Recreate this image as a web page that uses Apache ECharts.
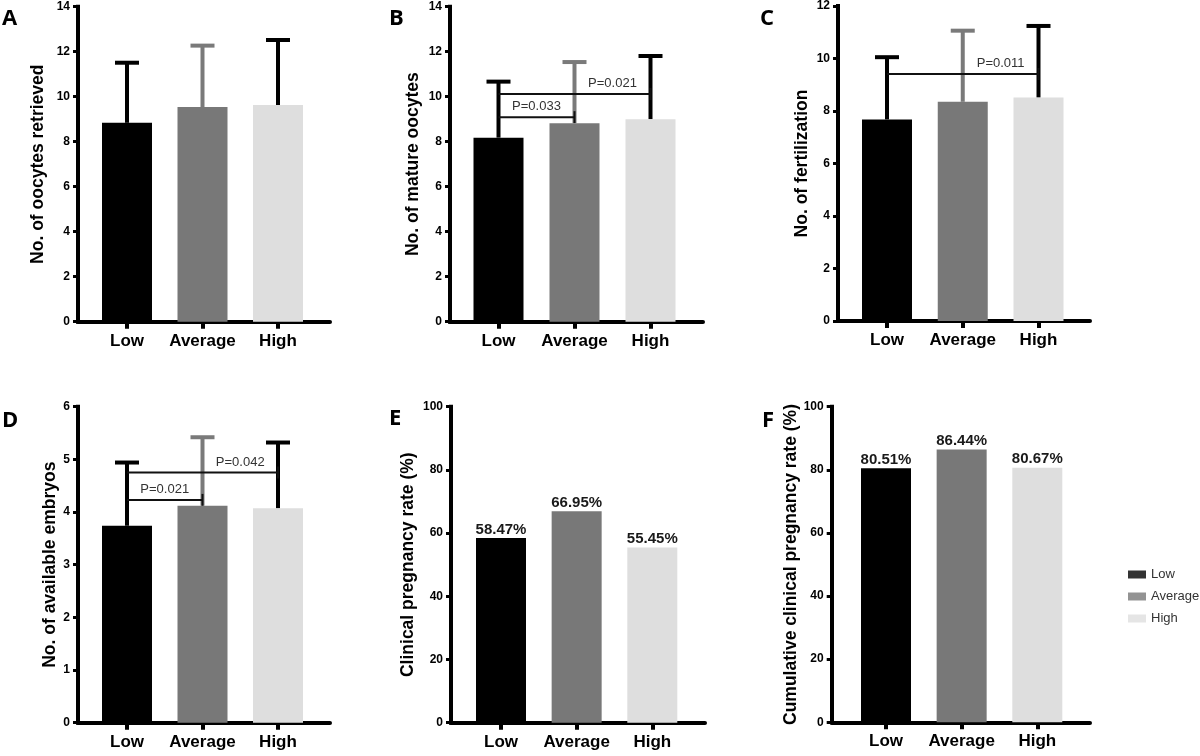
<!DOCTYPE html>
<html>
<head>
<meta charset="utf-8">
<title>Oocyte outcomes by group</title>
<script src="https://cdn.jsdelivr.net/npm/echarts@6/dist/echarts.min.js"></script>
<style>
  html, body { margin: 0; padding: 0; background: #fff; }
  #main { width: 1200px; height: 756px; }
</style>
</head>
<body>
<div id="main"></div>
<script>
// groups on every x axis
var groups = ['Low', 'Average', 'High'];

// A: oocytes retrieved (mean, SD)
var oocytesMean = [8.84, 9.54, 9.63];
var oocytesSD = [2.67, 2.73, 2.89];
// B: mature oocytes
var matureMean = [8.18, 8.82, 9.00];
var matureSD = [2.49, 2.72, 2.81];
// C: fertilization
var fertMean = [7.68, 8.35, 8.51];
var fertSD = [2.37, 2.71, 2.73];
// D: available embryos
var embryoMean = [3.74, 4.12, 4.07];
var embryoSD = [1.20, 1.30, 1.25];
// E, F: rates (%)
var clinicalRate = [58.47, 66.95, 55.45];
var cumulativeRate = [80.51, 86.44, 80.67];

// p-value brackets: [from group, to group, height, text, text centre (group index)]
var matureP = [[0, 2, 10.12, 'P=0.021', 1.5], [0, 1, 9.09, 'P=0.033', 0.5]];
var fertP = [[0, 2, 9.41, 'P=0.011', 1.5]];
var embryoP = [[0, 2, 4.75, 'P=0.042', 1.5], [0, 1, 4.23, 'P=0.021', 0.5]];

var barColors = ['#000000', '#787878', '#dedede'];
var errColors = ['#000000', '#7a7a7a', '#000000'];
var font = '"Liberation Sans", Arial, Helvetica, sans-serif';

// panel layout (pixels): x0/x1 axis ends, y0/y1 top/bottom, c0/c1 first/last bar centre
var panels = [
  { tag: 'A', name: 'No. of oocytes retrieved', mean: oocytesMean, sd: oocytesSD, p: [], max: 14, step: 2,
    x0: 78, x1: 330, y0: 6.7, y1: 321.7, c0: 127, c1: 278, gap: 31, tx: 2, ty: 8 },
  { tag: 'B', name: 'No. of mature oocytes', mean: matureMean, sd: matureSD, p: matureP, max: 14, step: 2,
    x0: 450, x1: 703, y0: 6.7, y1: 321.7, c0: 498.5, c1: 650.5, gap: 28, tx: 389, ty: 8 },
  { tag: 'C', name: 'No. of fertilization', mean: fertMean, sd: fertSD, p: fertP, max: 12, step: 2,
    x0: 838, x1: 1090, y0: 6, y1: 321, c0: 887, c1: 1038.5, gap: 27, tx: 760, ty: 8 },
  { tag: 'D', name: 'No. of available embryos', mean: embryoMean, sd: embryoSD, p: embryoP, max: 6, step: 1,
    x0: 78, x1: 330, y0: 406.7, y1: 722.7, c0: 127, c1: 278, gap: 19, tx: 2, ty: 410 },
  { tag: 'E', name: 'Clinical pregnancy rate (%)', mean: clinicalRate, sd: null, p: [], max: 100, step: 20,
    x0: 451, x1: 705, y0: 406.7, y1: 722.7, c0: 501, c1: 652.3, gap: 34, tx: 389, ty: 408 },
  { tag: 'F', name: 'Cumulative clinical pregnancy rate (%)', mean: cumulativeRate, sd: null, p: [], max: 100, step: 20,
    x0: 831.7, x1: 1090, y0: 406.7, y1: 722.3, c0: 886, c1: 1037.3, gap: 30, tx: 762, ty: 410 }
];

function renderErr(params, api) {
  var i = api.value(0);
  var base = api.coord([i, api.value(1)]);
  var top = api.coord([i, api.value(2)]);
  var c = errColors[i];
  return {
    type: 'group',
    children: [
      { type: 'line', shape: { x1: base[0], y1: base[1], x2: top[0], y2: top[1] }, style: { stroke: c, lineWidth: 4 } },
      { type: 'line', shape: { x1: top[0] - 12, y1: top[1], x2: top[0] + 12, y2: top[1] }, style: { stroke: c, lineWidth: 4 } }
    ]
  };
}

function bracketRenderer(list) {
  return function (params, api) {
    var b = list[params.dataIndex];
    var p0 = api.coord([b[0], b[2]]);
    var p1 = api.coord([b[1], b[2]]);
    var step = (p1[0] - p0[0]) / (b[1] - b[0]);
    var tx = p0[0] + (b[4] - b[0]) * step;
    return {
      type: 'group',
      children: [
        { type: 'line', shape: { x1: p0[0], y1: p0[1], x2: p1[0], y2: p1[1] }, style: { stroke: '#111', lineWidth: 2 } },
        { type: 'line', shape: { x1: p1[0], y1: p1[1] - 6, x2: p1[0], y2: p1[1] + 6 }, style: { stroke: '#111', lineWidth: 2 } },
        { type: 'text', x: tx, y: p0[1] - 4,
          style: { text: b[3], fill: '#333', fontSize: 13, fontFamily: font, align: 'center', verticalAlign: 'bottom' } }
      ]
    };
  };
}

var grids = [], xAxes = [], yAxes = [], series = [], titles = [];

panels.forEach(function (p, k) {
  var band = (p.c1 - p.c0) / 2;
  var o = 2 * k, n = 2 * k + 1;
  grids.push({ left: p.x0, top: p.y0, width: p.x1 - p.x0, height: p.y1 - p.y0 });
  grids.push({ left: p.c0 - band / 2, top: p.y0, width: band * 3, height: p.y1 - p.y0 });

  xAxes.push({
    gridIndex: o, type: 'value', min: 0, max: 1,
    axisLine: { show: true, lineStyle: { color: '#000', width: 4 } },
    axisTick: { show: false }, axisLabel: { show: false }, splitLine: { show: false }
  });
  xAxes.push({
    gridIndex: n, type: 'category', data: groups,
    axisLine: { show: false },
    axisTick: { show: true, alignWithLabel: true, length: 7, lineStyle: { color: '#000', width: 4 } },
    axisLabel: { interval: 0, margin: 11, fontSize: 17, fontWeight: 'bold', color: '#000', fontFamily: font }
  });
  yAxes.push({
    gridIndex: o, type: 'value', min: 0, max: p.max, interval: p.step,
    name: p.name, nameLocation: 'middle', nameGap: p.gap,
    nameTextStyle: { fontSize: 17.5, fontWeight: 'bold', color: '#000', fontFamily: font },
    axisLine: { show: true, lineStyle: { color: '#000', width: 4, cap: 'square' } },
    axisTick: { show: true, length: 5, lineStyle: { color: '#000', width: 3 } },
    axisLabel: { margin: 8, fontSize: 12, fontWeight: 'bold', color: '#000', fontFamily: font },
    splitLine: { show: false }
  });
  yAxes.push({ gridIndex: n, type: 'value', min: 0, max: p.max, show: false });

  var bar = {
    type: 'bar', xAxisIndex: n, yAxisIndex: n, barWidth: 50,
    data: p.mean.map(function (v, i) { return { value: v, itemStyle: { color: barColors[i] } }; })
  };
  if (!p.sd) {
    bar.label = {
      show: true, position: 'top', distance: 1, formatter: '{c}%',
      fontSize: 15, fontWeight: 'bold', color: '#1a1a1a', fontFamily: font
    };
  }
  series.push(bar);

  if (p.sd) {
    series.push({
      type: 'custom', xAxisIndex: n, yAxisIndex: n, clip: false,
      renderItem: renderErr,
      encode: { x: 0, y: [1, 2] },
      data: p.mean.map(function (v, i) { return [i, v, v + p.sd[i]]; })
    });
  }
  if (p.p.length) {
    series.push({
      type: 'custom', xAxisIndex: n, yAxisIndex: n, clip: false,
      renderItem: bracketRenderer(p.p),
      encode: { x: 0, y: 1 },
      data: p.p.map(function (b) { return [b[0], b[2]]; })
    });
  }

  titles.push({
    text: p.tag, left: p.tx, top: p.ty, padding: 0,
    textStyle: { fontSize: 22, fontWeight: 'bold', color: '#000', fontFamily: '"Open Sans", sans-serif' }
  });
});

// legend entries (no marks, only for the key)
groups.forEach(function (g, i) {
  series.push({ type: 'scatter', name: g, xAxisIndex: 10, yAxisIndex: 10, data: [], itemStyle: { color: barColors[i] } });
});

var chart = echarts.init(document.getElementById('main'));
chart.setOption({
  animation: false,
  backgroundColor: '#fff',
  title: titles,
  legend: {
    orient: 'vertical', left: 1123, top: 563, icon: 'rect',
    itemWidth: 18, itemHeight: 8, itemGap: 9, selectedMode: false,
    textStyle: { fontSize: 13, color: '#333', fontFamily: font },
    data: groups
  },
  grid: grids,
  xAxis: xAxes,
  yAxis: yAxes,
  series: series
});
</script>
</body>
</html>
